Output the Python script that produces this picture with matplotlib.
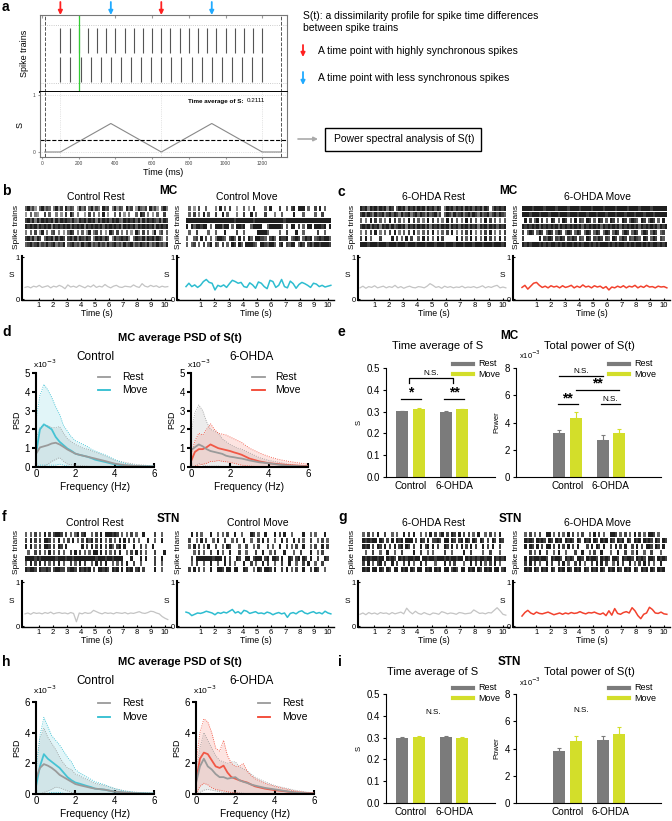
import numpy as np
import matplotlib
matplotlib.use('Agg')
import matplotlib.pyplot as plt
from matplotlib.lines import Line2D
from matplotlib.patches import Rectangle, FancyArrowPatch

plt.rcParams['font.family'] = ['Liberation Sans', 'DejaVu Sans']
plt.rcParams['axes.linewidth'] = 0.8

# ---------------- data ----------------
# panel a
train_a1 = [100, 150, 200, 250, 300, 350, 400, 450, 500, 550, 600, 650, 700, 750, 800, 850,
            900, 950, 1000, 1050, 1100, 1150, 1200]
train_a2 = [100, 155, 210, 265, 320, 375, 430, 485, 540, 595, 650, 705, 760, 815, 870, 925,
            980, 1035, 1090, 1145, 1200]
S_a_t = [15, 100, 375, 650, 925, 1200, 1300]
S_a_v = [0, 0, 0.5, 0, 0.5, 0, 0]
S_a_avg = 0.2111
sync_times = [100, 650, 1200]
arrow_times = [100, 375, 650, 925]
arrow_cols = ['#ff2020', '#20aaff', '#ff2020', '#20aaff']
ticks_ms = [0, 200, 400, 600, 800, 1000, 1200]

# rasters (grey level 0-9 per time bin, 7 trains each)
rast_b_rest = [
    "7968507968706958096870596807958609780695870968059768096850796",
    "5070650080700605080970600508070609050070805060070980605070080",
    "8979697989896979898797698979896979897989769898979697989879698",
    "9898979898969898989798989698989897989898969898979898989698989",
    "6070805906078060507980607059068070509708060705096080705906807",
    "8979698079896979808979698798069897980697898960798796989798607",
    "7897896879789687907897869789687978697897869789687987968797869"]
rast_b_move = [
    "0705080070006090708005007050800007090008007089099907008090700",
    "0708060907008009070006008009070008000600700009000700007008000",
    "9999999999999999999989999999899999999999989999999999999999999",
    "9097998990709997990709989007999900799999807099080709909998909",
    "0700800007007000900008007000009999700007008000900700000800700",
    "7007809080706998708970908097099887089709889078980798907898997",
    "7078070807908708070980970999870998799708908799079808979989998"]
rast_c_rest = [
    "9896989798969807989698979896989798069897989698979896980798989",
    "8979869789689798697896897986978968079869789689798697896897987",
    "7060908070609080706090807060908070609080706090807060908070607",
    "8989798969897978989698979897969897989698979897989698979897989",
    "6070809060708090607080906070809060708090607080906070809060708",
    "8090700080000908070908007090807090800000908070908070908070908",
    "9998999899989998999899989998999899989998999899989998999899989"]
rast_c_move = [
    "9999899998999989999899998999989999899998999989999899998999999",
    "9998999899989998999899989998999899989998999899989998999899999",
    "0908079080709807098070908709807098070980709807987098079807090",
    "9898989798989897989898989798989897989898979898989798989897989",
    "8079807980798079807980798079807980798079807980798079807980780",
    "8000000908798087980879808709808798087098079808798709807980870",
    "9898999898989989898998989899898989998989899898989989898998989"]
rast_f_rest = [
    "7070807090808998080707908900708090999898070708070090000800700",
    "8090808099807090708090708097908090708070909080807000900700900",
    "9090708099808098090000009080908090809708909000900807009000000",
    "0700808070907080700809080707099090807080900708090807000800090",
    "9999898999999899989989999999998999899899990009000909000800900",
    "7090809080708090700807090800709080900707080900800700000800700",
    "9899809889808998808998098989080998980989090989089080000900700"]
rast_f_move = [
    "0090807000900707080090070009807009000908090070000900707000900",
    "0800709080070900800708009007008090800700908009080700800708070",
    "0709080709008007098000700800708000807009008070800900708009080",
    "0007080700800907009000800700080090070800090007008000900708000",
    "0080999999989990908009800990899908909980900980890980900800980",
    "0070800700900700908070009008070090800700800900700809007008000",
    "0809080700900998099099009800709809980900809070800900809800700"]
rast_g_rest = [
    "0708070900800707009080900707090807908098090808070900708070900",
    "0989899098080909890999080980908898099098089098098098080980980",
    "0989080980908090890980800908909080098090809080908009080900800",
    "0070080070090070080000900800707000080070000900800007008000700",
    "0989899899098980989899899099899899989899899098989899899098989",
    "0809070890800908008090700908000700090808000700908090708090700",
    "0989099098098099098909809909890989099089809909890980989099089"]
rast_g_move = [
    "0708070800990708070908070800709080700998070807090807099807000",
    "0989809898098098909898098098909809890980989098098909898098098",
    "0909809080990809080908090008090980900809080900809080998098090",
    "0008070900800709007000800900708009000700900800709007008000700",
    "0909899899809899809898099809899809898099809899809898099809898",
    "0809080700908008090700809070080909080070908009070809080700900",
    "0989098098909809890980989098098909809890980989098098909809890"]

# S(t) traces (0 - 10.2 s)
S_b_rest = [0.28,0.30,0.27,0.31,0.29,0.33,0.28,0.30,0.32,0.27,0.31,0.29,0.33,0.30,0.25,0.34,0.29,0.31,0.28,0.33,
            0.30,0.27,0.32,0.29,0.34,0.28,0.31,0.29,0.35,0.30,0.27,0.31,0.33,0.29,0.28,0.31,0.30,0.29,0.34,0.30,
            0.28,0.37,0.31,0.29,0.33,0.30,0.32,0.28,0.31,0.29,0.30]
S_b_move = [0.30,0.38,0.30,0.34,0.28,0.33,0.42,0.47,0.40,0.38,0.22,0.33,0.30,0.34,0.28,0.37,0.45,0.42,0.38,0.40,
            0.30,0.28,0.39,0.34,0.26,0.41,0.38,0.30,0.25,0.45,0.42,0.28,0.33,0.47,0.30,0.27,0.43,0.37,0.26,0.35,
            0.40,0.37,0.33,0.28,0.38,0.36,0.30,0.33,0.29,0.31,0.33]
S_c_rest = [0.27,0.31,0.26,0.30,0.28,0.32,0.27,0.29,0.31,0.27,0.30,0.28,0.33,0.27,0.30,0.26,0.29,0.31,0.28,0.27,
            0.30,0.29,0.27,0.31,0.37,0.33,0.28,0.30,0.26,0.31,0.28,0.30,0.27,0.29,0.28,0.31,0.27,0.29,0.28,0.30,
            0.27,0.29,0.32,0.27,0.30,0.28,0.31,0.33,0.27,0.29,0.27]
S_c_move = [0.28,0.33,0.24,0.31,0.38,0.40,0.33,0.28,0.31,0.27,0.32,0.29,0.31,0.27,0.32,0.28,0.30,0.33,0.27,0.31,
            0.28,0.34,0.29,0.31,0.27,0.32,0.29,0.31,0.26,0.30,0.22,0.29,0.27,0.31,0.28,0.32,0.27,0.31,0.29,0.33,
            0.27,0.31,0.28,0.33,0.29,0.30,0.27,0.31,0.29,0.30,0.27]
S_f_rest = [0.28,0.30,0.27,0.31,0.29,0.30,0.28,0.31,0.29,0.32,0.28,0.30,0.31,0.29,0.30,0.28,0.31,0.29,0.10,0.30,
            0.28,0.31,0.29,0.30,0.36,0.33,0.30,0.28,0.31,0.29,0.30,0.28,0.31,0.30,0.29,0.31,0.28,0.30,0.29,0.31,
            0.33,0.30,0.29,0.31,0.34,0.33,0.30,0.28,0.22,0.18,0.15]
S_f_move = [0.32,0.30,0.24,0.27,0.30,0.29,0.31,0.34,0.32,0.30,0.26,0.31,0.29,0.32,0.30,0.34,0.38,0.30,0.33,0.28,
            0.36,0.34,0.29,0.31,0.33,0.29,0.30,0.28,0.32,0.30,0.26,0.29,0.31,0.28,0.30,0.20,0.29,0.31,0.28,0.33,
            0.35,0.30,0.28,0.31,0.33,0.29,0.31,0.28,0.34,0.30,0.28]
S_g_rest = [0.27,0.30,0.26,0.31,0.28,0.30,0.27,0.31,0.29,0.30,0.27,0.31,0.28,0.30,0.32,0.28,0.41,0.33,0.28,0.34,
            0.29,0.27,0.31,0.28,0.26,0.30,0.29,0.27,0.33,0.31,0.28,0.30,0.29,0.27,0.31,0.30,0.28,0.29,0.30,0.37,
            0.33,0.29,0.30,0.28,0.31,0.30,0.36,0.42,0.35,0.27,0.25]
S_g_move = [0.23,0.31,0.36,0.30,0.27,0.32,0.29,0.28,0.30,0.32,0.29,0.26,0.28,0.30,0.27,0.30,0.28,0.31,0.29,0.30,
            0.33,0.30,0.28,0.31,0.30,0.32,0.29,0.27,0.30,0.24,0.35,0.25,0.40,0.29,0.27,0.31,0.33,0.30,0.42,0.35,
            0.24,0.17,0.27,0.30,0.43,0.38,0.30,0.29,0.32,0.28,0.27]

# PSD (x1e-3)
freqs = [0, 0.2, 0.4, 0.6, 0.8, 1.0, 1.2, 1.4, 1.6, 1.8, 2.0, 2.2, 2.4, 2.6, 2.8, 3.0, 3.5, 4.0, 4.5, 5.0, 5.5, 6.0]
d_ctl_rest_m = [0.7,1.04,1.1,1.16,1.25,1.29,1.2,1.07,0.93,0.82,0.71,0.65,0.6,0.55,0.5,0.45,0.32,0.18,0.1,0.06,0.04,0.03]
d_ctl_rest_u = [1.5,2.1,2.2,2.2,2.1,2.1,2.15,1.8,1.5,1.35,1.2,1.1,1.0,0.95,0.88,0.8,0.6,0.35,0.25,0.15,0.1,0.05]
d_ctl_rest_l = [0,0,0.05,0.15,0.3,0.4,0.5,0.3,0.15,0.12,0.1,0.08,0.06,0.05,0.03,0.02,0.01,0,0,0,0,0]
d_ctl_move_m = [0.7,2.0,2.27,2.14,2.0,1.6,1.34,1.16,0.98,0.86,0.71,0.65,0.6,0.55,0.48,0.39,0.27,0.14,0.07,0.04,0.03,0.02]
d_ctl_move_u = [2.5,3.8,4.4,4.1,3.7,3.2,2.8,2.2,1.9,1.6,1.4,1.3,1.2,1.1,0.95,0.85,0.65,0.4,0.2,0.1,0.07,0.05]
d_ctl_move_l = [0,0.1,0.1,0.1,0.1,0.1,0.15,0.1,0.05,0.03,0.02,0.01,0,0,0,0,0,0,0,0,0,0]
d_ohd_rest_m = [0.9,1.05,1.2,1.1,0.95,0.85,0.8,0.75,0.7,0.6,0.55,0.52,0.48,0.45,0.4,0.35,0.25,0.2,0.12,0.07,0.05,0.03]
d_ohd_rest_u = [1.8,2.9,3.3,3.0,2.4,2.0,1.9,1.8,1.5,1.35,1.2,1.1,1.0,0.95,0.85,0.75,0.5,0.35,0.25,0.15,0.1,0.05]
d_ohd_rest_l = [0,0.05,0.2,0.1,0.05,0.05,0.05,0.05,0.03,0.02,0.02,0.01,0,0,0,0,0,0,0,0,0,0]
d_ohd_move_m = [0.3,0.8,0.95,0.95,1.05,1.2,1.1,1.0,0.95,0.9,0.85,0.78,0.72,0.65,0.55,0.45,0.3,0.2,0.15,0.1,0.07,0.05]
d_ohd_move_u = [0.6,1.4,1.8,1.7,2.0,2.3,2.0,1.8,1.75,1.7,1.6,1.5,1.4,1.3,1.15,1.0,0.75,0.55,0.4,0.3,0.22,0.15]
d_ohd_move_l = [0,0.05,0.1,0.15,0.2,0.3,0.3,0.35,0.3,0.28,0.25,0.2,0.15,0.1,0.07,0.05,0.02,0,0,0,0,0]
h_ctl_rest_m = [1.0,1.7,1.95,1.85,1.7,1.5,1.25,1.1,0.95,0.8,0.65,0.58,0.52,0.46,0.4,0.35,0.28,0.15,0.1,0.06,0.04,0.02]
h_ctl_rest_u = [2.0,3.6,4.3,3.7,3.3,2.9,2.4,2.0,1.7,1.6,1.3,1.2,1.05,0.95,0.8,0.7,0.55,0.35,0.2,0.12,0.08,0.05]
h_ctl_rest_l = [0,0,0.1,0.2,0.3,0.45,0.4,0.3,0.2,0.1,0.05,0.03,0.02,0,0,0,0,0,0,0,0,0]
h_ctl_move_m = [0.5,1.8,2.6,2.3,2.1,1.9,1.7,1.4,1.1,0.9,0.75,0.68,0.6,0.52,0.45,0.35,0.28,0.15,0.08,0.05,0.03,0.02]
h_ctl_move_u = [1.4,3.8,5.0,4.4,3.8,3.5,3.2,2.8,2.4,2.1,1.6,1.4,1.25,1.1,0.95,0.8,0.6,0.35,0.2,0.12,0.08,0.05]
h_ctl_move_l = [0,0,0,0.05,0.1,0.1,0.1,0.05,0.02,0,0,0,0,0,0,0,0,0,0,0,0,0]
h_ohd_rest_m = [0.7,1.8,2.3,1.8,1.6,1.3,1.1,1.1,1.0,1.05,1.1,0.9,0.8,0.72,0.62,0.55,0.4,0.3,0.2,0.1,0.06,0.03]
h_ohd_rest_u = [1.5,3.0,4.0,3.5,3.0,2.5,2.2,2.1,2.0,2.1,2.1,1.8,1.65,1.5,1.3,1.1,0.8,0.55,0.4,0.25,0.15,0.06]
h_ohd_rest_l = [0,0.1,0.25,0.3,0.25,0.2,0.15,0.1,0.08,0.1,0.12,0.08,0.05,0.03,0.02,0.01,0,0,0,0,0,0]
h_ohd_move_m = [0.8,2.3,2.7,2.6,2.2,1.8,1.7,1.85,1.4,1.1,1.0,0.9,0.82,0.75,0.62,0.5,0.35,0.25,0.18,0.1,0.06,0.03]
h_ohd_move_u = [2.0,4.0,4.9,4.7,4.0,3.0,2.8,3.5,2.5,2.0,1.8,1.8,2.0,1.5,1.2,1.0,0.7,0.5,0.35,0.2,0.12,0.06]
h_ohd_move_l = [0,0.5,0.7,0.6,0.4,0.3,0.25,0.2,0.15,0.1,0.08,0.05,0.03,0.02,0.01,0,0,0,0,0,0,0]

# bars
groups = ['Control', '6-OHDA']
mc_S_rest, mc_S_rest_e = [0.301, 0.300], [0.003, 0.003]
mc_S_move, mc_S_move_e = [0.312, 0.310], [0.003, 0.003]
mc_P_rest, mc_P_rest_e = [3.2, 2.75], [0.25, 0.3]
mc_P_move, mc_P_move_e = [4.35, 3.25], [0.4, 0.25]
stn_S_rest, stn_S_rest_e = [0.300, 0.302], [0.004, 0.005]
stn_S_move, stn_S_move_e = [0.305, 0.297], [0.004, 0.005]
stn_P_rest, stn_P_rest_e = [3.8, 4.6], [0.25, 0.35]
stn_P_move, stn_P_move_e = [4.55, 5.1], [0.35, 0.45]

# ---------------- helpers ----------------
W, H = 672, 821
fig = plt.figure(figsize=(W / 100, H / 100), dpi=100)

CYAN = '#2ebdd0'
RED = '#f2422e'
LGREY = '#c4c4c4'
PGREY = '#9a9a9a'
BGREY = '#7b7b7b'
YG = '#d3de2a'


def AX(x0, y0, x1, y1):
    return fig.add_axes([x0 / W, 1 - y1 / H, (x1 - x0) / W, (y1 - y0) / H])


def T(x, y, s, **kw):
    kw.setdefault('va', 'center')
    kw.setdefault('ha', 'left')
    return fig.text(x / W, 1 - y / H, s, **kw)


def L(xs, ys, **kw):
    fig.add_artist(Line2D([x / W for x in xs], [1 - y / H for y in ys],
                          transform=fig.transFigure, **kw))


def ARR(x0, y0, x1, y1, color, lw=1.3, ms=6):
    fig.add_artist(FancyArrowPatch((x0 / W, 1 - y0 / H), (x1 / W, 1 - y1 / H),
                                   transform=fig.transFigure, arrowstyle='-|>',
                                   mutation_scale=ms, color=color, lw=lw,
                                   shrinkA=0, shrinkB=0))


# ---------------- panel a ----------------
T(2, 7, 'a', fontsize=10, fontweight='bold')
axT = AX(40, 15, 287, 92)
axT.set_xlim(-11, 1335)
axT.set_ylim(0, 1)
axT.vlines(train_a1, 0.506, 0.831, color='#555555', lw=0.8)
axT.vlines(train_a2, 0.13, 0.455, color='#555555', lw=0.8)
for yy in (0.117, 0.87):
    axT.axhline(yy, color='#bbbbbb', lw=0.6, ls=':')
axT.axvline(200, color='#33cc33', lw=0.9)
for xx in (15, 1300):
    axT.axvline(xx, color='#555555', lw=0.7, ls='--')
axT.set_xticks(ticks_ms)
axT.set_yticks([])
axT.tick_params(axis='x', top=True, bottom=False, labelbottom=False,
                direction='in', length=2, color='#999999')
for s in axT.spines.values():
    s.set_color('#777777')
    s.set_linewidth(0.8)
axT.spines['bottom'].set_color('k')
axT.spines['bottom'].set_linewidth(1.4)
axT.set_ylabel('Spike trains', fontsize=6.5, labelpad=8)
for t, c in zip(arrow_times, arrow_cols):
    axT.annotate('', xy=(t, 1.0), xycoords=('data', 'axes fraction'),
                 xytext=(t, 1.0 + 13 / 77), textcoords=('data', 'axes fraction'),
                 arrowprops=dict(arrowstyle='-|>', color=c, lw=1.3, mutation_scale=6,
                                 shrinkA=0, shrinkB=0), annotation_clip=False)

axS = AX(40, 92, 287, 157)
axS.set_xlim(-11, 1335)
axS.set_ylim(-0.088, 1.053)
for yy in (0, 1):
    axS.axhline(yy, color='#cccccc', lw=0.5, ls=':')
for xx in sync_times:
    axS.axvline(xx, color='#cccccc', lw=0.5, ls=':')
for xx in (15, 1300):
    axS.axvline(xx, color='#555555', lw=0.7, ls='--')
axS.plot(S_a_t, S_a_v, color='#888888', lw=0.8)
axS.axhline(S_a_avg, color='k', ls='--', lw=0.8)
axS.set_xticks(ticks_ms)
axS.set_yticks([0, 1])
axS.tick_params(labelsize=3.5, length=1.5, labelcolor='#444444', color='#999999', pad=1.5)
for s in axS.spines.values():
    s.set_color('#777777')
    s.set_linewidth(0.8)
axS.spines['top'].set_visible(False)
axS.set_xlabel('Time (ms)', fontsize=6.5, labelpad=1)
axS.set_ylabel('S', fontsize=6.5, labelpad=6)
T(188, 101, 'Time average of S:', fontsize=4.5, fontweight='bold')
T(247, 100, '0.2111', fontsize=4.5)

T(303, 16, 'S(t): a dissimilarity profile for spike time differences', fontsize=7.5)
T(303, 28, 'between spike trains', fontsize=7.5)
ARR(303, 45, 303, 57, '#ff2020')
T(318, 51, 'A time point with highly synchronous spikes', fontsize=7.5)
ARR(303, 72, 303, 85, '#20aaff')
T(318, 78, 'A time point with less synchronous spikes', fontsize=7.5)
ARR(298, 139, 318, 139, '#aaaaaa', lw=1.2)
fig.add_artist(Rectangle((325 / W, 1 - 151 / H), 156 / W, 23 / H, transform=fig.transFigure,
                         fill=False, ec='k', lw=1.0))
T(334, 139, 'Power spectral analysis of S(t)', fontsize=7.5)


# ---------------- raster blocks ----------------
def raster_block(spine, t0, pxs, ry0, ry1, sy0, sy1, rows, svals, scolor, slw, lab_x, lab):
    xr = t0 + 10.45 * pxs
    xmin = -(t0 - spine) / pxs
    axr = AX(spine, ry0, xr, ry1)
    n = len(rows)
    for i, r in enumerate(rows):
        vals = np.array([int(ch) for ch in r], dtype=float) / 9.0
        ytop = n - i
        axr.imshow(vals[None, :], extent=(0, 10.2, ytop - 0.88, ytop - 0.05), aspect='auto',
                   cmap='Greys', vmin=0, vmax=1.12, interpolation='nearest')
    axr.set_xlim(xmin, 10.45)
    axr.set_ylim(0, n)
    axr.axis('off')
    T(lab_x, (ry0 + ry1) / 2, lab, rotation=90, ha='center', fontsize=6)

    axs = AX(spine, sy0, xr, sy1)
    tt = np.linspace(0, 10.2, len(svals))
    axs.plot(tt, svals, color=scolor, lw=slw)
    axs.set_xlim(xmin, 10.45)
    axs.set_ylim(-0.02, 1.03)
    for k in ('top', 'right'):
        axs.spines[k].set_visible(False)
    axs.spines['left'].set_linewidth(1.5)
    axs.spines['bottom'].set_linewidth(1.0)
    axs.set_xticks(range(1, 11))
    axs.set_yticks([0, 1])
    axs.tick_params(labelsize=5.5, length=1.5, direction='in', pad=1.5)
    axs.set_xlabel('Time (s)', fontsize=6.3, labelpad=0)
    axs.text(-0.05, 0.55, 'S', transform=axs.transAxes, fontsize=6, ha='right', va='center')
    return axs


cols = [(22, 25, 14.0), (177, 186, 14.2), (358, 360, 14.3), (513, 522, 14.2)]
MCy = (206, 248, 256, 300)
STy = (532, 573, 581, 627)

raster_block(*cols[0], *MCy, rast_b_rest, S_b_rest, LGREY, 0.9, 17, 'Spike trains')
raster_block(*cols[1], *MCy, rast_b_move, S_b_move, CYAN, 1.1, 178, 'Spike trains')
raster_block(*cols[2], *MCy, rast_c_rest, S_c_rest, LGREY, 0.9, 352, 'Spike trians')
raster_block(*cols[3], *MCy, rast_c_move, S_c_move, RED, 1.1, 516, 'Spike trians')
raster_block(*cols[0], *STy, rast_f_rest, S_f_rest, LGREY, 0.9, 17, 'Spike trians')
raster_block(*cols[1], *STy, rast_f_move, S_f_move, CYAN, 1.1, 178, 'Spike trians')
raster_block(*cols[2], *STy, rast_g_rest, S_g_rest, LGREY, 0.9, 352, 'Spike trians')
raster_block(*cols[3], *STy, rast_g_move, S_g_move, RED, 1.1, 516, 'Spike trians')

T(2, 191, 'b', fontsize=10, fontweight='bold')
T(338, 192, 'c', fontsize=10, fontweight='bold')
T(96, 197, 'Control Rest', fontsize=7.5, ha='center')
T(247, 197, 'Control Move', fontsize=7.5, ha='center')
T(168, 191, 'MC', fontsize=8.5, fontweight='bold', ha='center')
T(433, 197, '6-OHDA Rest', fontsize=7.5, ha='center')
T(508, 191, 'MC', fontsize=8.5, fontweight='bold', ha='center')
T(597, 197, '6-OHDA Move', fontsize=7.5, ha='center')

T(2, 517, 'f', fontsize=10, fontweight='bold')
T(338, 517, 'g', fontsize=10, fontweight='bold')
T(95, 523, 'Control Rest', fontsize=7.5, ha='center')
T(258, 523, 'Control Move', fontsize=7.5, ha='center')
T(168, 519, 'STN', fontsize=8.5, fontweight='bold', ha='center')
T(433, 523, '6-OHDA Rest', fontsize=7.5, ha='center')
T(510, 519, 'STN', fontsize=8.5, fontweight='bold', ha='center')
T(597, 523, '6-OHDA Move', fontsize=7.5, ha='center')


# ---------------- PSD panels ----------------
def psd(ax, rest, move, mcol, ymax, ystep):
    f = np.array(freqs)
    rm, ru, rl = rest
    mm, mu, ml = move
    ax.fill_between(f, rl, ru, color=PGREY, alpha=0.18, lw=0)
    ax.fill_between(f, ml, mu, color=mcol, alpha=0.14, lw=0)
    for arr in (ru, rl):
        ax.plot(f, arr, color=PGREY, lw=0.6, ls=':')
    for arr in (mu, ml):
        ax.plot(f, arr, color=mcol, lw=0.6, ls=':')
    ax.plot(f, mm, color=mcol, lw=1.3, alpha=0.85)
    ax.plot(f, rm, color=PGREY, lw=1.3)
    ax.set_xlim(0, 6)
    ax.set_ylim(0, ymax)
    ax.set_xticks([0, 2, 4, 6])
    ax.set_yticks(np.arange(0, ymax + 0.1, ystep))
    for k in ('top', 'right'):
        ax.spines[k].set_visible(False)
    ax.spines['left'].set_linewidth(1.5)
    ax.spines['bottom'].set_linewidth(1.5)
    ax.tick_params(labelsize=7, width=1.5, length=3, pad=1.5)
    ax.tick_params(axis='x', direction='in')
    ax.set_ylabel('PSD', fontsize=6.5, labelpad=2)
    ax.set_xlabel('Frequency (Hz)', fontsize=7.3, labelpad=2)


def psd_legend(x0, x1, xt, y1, y2, mcol, fs=7.5):
    L([x0, x1], [y1, y1], color=PGREY, lw=1.3)
    L([x0, x1], [y2, y2], color=mcol, lw=1.3)
    T(xt, y1, 'Rest', fontsize=fs)
    T(xt, y2, 'Move', fontsize=fs)


T(2, 332, 'd', fontsize=10, fontweight='bold')
T(180, 338, 'MC average PSD of S(t)', fontsize=8, fontweight='bold', ha='center')
T(95, 357, 'Control', fontsize=8.5, ha='center')
T(252, 357, '6-OHDA', fontsize=8.5, ha='center')
ax = AX(36, 373, 154, 467)
psd(ax, (d_ctl_rest_m, d_ctl_rest_u, d_ctl_rest_l), (d_ctl_move_m, d_ctl_move_u, d_ctl_move_l), CYAN, 5, 1)
ax = AX(191, 373, 308, 467)
psd(ax, (d_ohd_rest_m, d_ohd_rest_u, d_ohd_rest_l), (d_ohd_move_m, d_ohd_move_u, d_ohd_move_l), RED, 5, 1)
T(33, 364, 'x10$^{-3}$', fontsize=6)
T(187, 364, 'x10$^{-3}$', fontsize=6)
psd_legend(98, 110, 122, 377, 390, CYAN)
psd_legend(252, 265, 275, 377, 390, RED)

T(2, 662, 'h', fontsize=10, fontweight='bold')
T(180, 662, 'MC average PSD of S(t)', fontsize=8, fontweight='bold', ha='center')
T(95, 681, 'Control', fontsize=8.5, ha='center')
T(252, 681, '6-OHDA', fontsize=8.5, ha='center')
ax = AX(36, 702, 154, 794)
psd(ax, (h_ctl_rest_m, h_ctl_rest_u, h_ctl_rest_l), (h_ctl_move_m, h_ctl_move_u, h_ctl_move_l), CYAN, 6, 2)
ax = AX(196, 702, 314, 794)
psd(ax, (h_ohd_rest_m, h_ohd_rest_u, h_ohd_rest_l), (h_ohd_move_m, h_ohd_move_u, h_ohd_move_l), RED, 6, 2)
T(33, 690, 'x10$^{-3}$', fontsize=6)
T(193, 690, 'x10$^{-3}$', fontsize=6)
psd_legend(98, 110, 122, 703, 717, CYAN)
psd_legend(258, 270, 282, 703, 717, RED)


# ---------------- bar panels ----------------
def bars(ax, rm, re, mm, me, ylim, yticks, ylabels, ylabel, xlim):
    x = np.arange(len(groups))
    ax.bar(x - 0.19, rm, width=0.28, color=BGREY, yerr=[np.zeros(2), re], capsize=1.5,
           error_kw=dict(ecolor=BGREY, lw=0.8, capthick=0.8))
    ax.bar(x + 0.19, mm, width=0.28, color=YG, yerr=[np.zeros(2), me], capsize=1.5,
           error_kw=dict(ecolor=YG, lw=0.8, capthick=0.8))
    ax.set_xlim(*xlim)
    ax.set_ylim(*ylim)
    ax.set_xticks(x)
    ax.set_xticklabels(groups, fontsize=7.2)
    ax.set_yticks(yticks)
    ax.set_yticklabels(ylabels, fontsize=7)
    ax.tick_params(axis='x', length=0, pad=3)
    ax.tick_params(axis='y', length=2.5, width=0.8, pad=2)
    for k in ('top', 'right'):
        ax.spines[k].set_visible(False)
    ax.set_ylabel(ylabel, fontsize=5.5, labelpad=3)


def bar_legend(x0, x1, xt, y1, y2):
    L([x0, x1], [y1, y1], color=BGREY, lw=3)
    L([x0, x1], [y2, y2], color=YG, lw=3)
    T(xt, y1, 'Rest', fontsize=6.5)
    T(xt, y2, 'Move', fontsize=6.5)


S_ticks = [0, 0.1, 0.2, 0.3, 0.4, 0.5]
S_tlab = ['0.0', '0.1', '0.2', '0.3', '0.4', '0.5']
P_ticks = [0, 2, 4, 6, 8]
STAR = dict(fontsize=10, fontweight='bold', ha='center', va='center')

T(338, 332, 'e', fontsize=10, fontweight='bold')
T(509, 336, 'MC', fontsize=8.5, fontweight='bold', ha='center')
T(438, 346, 'Time average of S', fontsize=8, ha='center')
T(589, 346, 'Total power of S(t)', fontsize=8, ha='center')
axe1 = AX(386, 368, 495, 477)
bars(axe1, mc_S_rest, mc_S_rest_e, mc_S_move, mc_S_move_e, (0, 0.5), S_ticks, S_tlab, 'S', (-0.56, 1.94))
axe1.plot([-0.22, 0.24], [0.358, 0.358], color='k', lw=0.9)
axe1.text(0.01, 0.388, '*', **STAR)
axe1.plot([0.78, 1.24], [0.358, 0.358], color='k', lw=0.9)
axe1.text(1.01, 0.388, '**', **STAR)
axe1.plot([-0.03, -0.03, 0.98, 0.98], [0.431, 0.454, 0.454, 0.431], color='k', lw=0.9)
axe1.text(0.475, 0.476, 'N.S.', fontsize=5.8, ha='center', va='center')
bar_legend(453, 473, 478, 364, 374)

axe2 = AX(516, 368, 661, 477)
bars(axe2, mc_P_rest, mc_P_rest_e, mc_P_move, mc_P_move_e, (0, 8), P_ticks,
     [str(v) for v in P_ticks], 'Power', (-1.18, 2.15))
axe2.plot([-0.22, 0.24], [5.35, 5.35], color='k', lw=0.9)
axe2.text(0.01, 5.78, '**', **STAR)
axe2.plot([0.77, 1.2], [5.35, 5.35], color='k', lw=0.9)
axe2.text(0.98, 5.72, 'N.S.', fontsize=5.8, ha='center', va='center')
axe2.plot([0.2, 1.18], [6.4, 6.4], color='k', lw=0.9)
axe2.text(0.69, 6.83, '**', **STAR)
axe2.plot([-0.2, 0.82], [7.4, 7.4], color='k', lw=0.9)
axe2.text(0.31, 7.75, 'N.S.', fontsize=5.8, ha='center', va='center')
T(519, 355, 'x10$^{-3}$', fontsize=5.5)
bar_legend(609, 629, 634, 364, 374)

T(338, 662, 'i', fontsize=10, fontweight='bold')
T(509, 662, 'STN', fontsize=8.5, fontweight='bold', ha='center')
T(433, 672, 'Time average of S', fontsize=8, ha='center')
T(589, 672, 'Total power of S(t)', fontsize=8, ha='center')
axi1 = AX(386, 694, 495, 803)
bars(axi1, stn_S_rest, stn_S_rest_e, stn_S_move, stn_S_move_e, (0, 0.5), S_ticks, S_tlab, 'S', (-0.56, 1.94))
axi1.text(0.52, 0.417, 'N.S.', fontsize=5.8, ha='center', va='center')
bar_legend(453, 473, 478, 688, 698)

axi2 = AX(516, 694, 661, 803)
bars(axi2, stn_P_rest, stn_P_rest_e, stn_P_move, stn_P_move_e, (0, 8), P_ticks,
     [str(v) for v in P_ticks], 'Power', (-1.18, 2.15))
axi2.text(0.31, 6.76, 'N.S.', fontsize=5.8, ha='center', va='center')
T(519, 682, 'x10$^{-3}$', fontsize=5.5)
bar_legend(609, 629, 634, 688, 698)

fig.savefig('out.png', dpi=100)
